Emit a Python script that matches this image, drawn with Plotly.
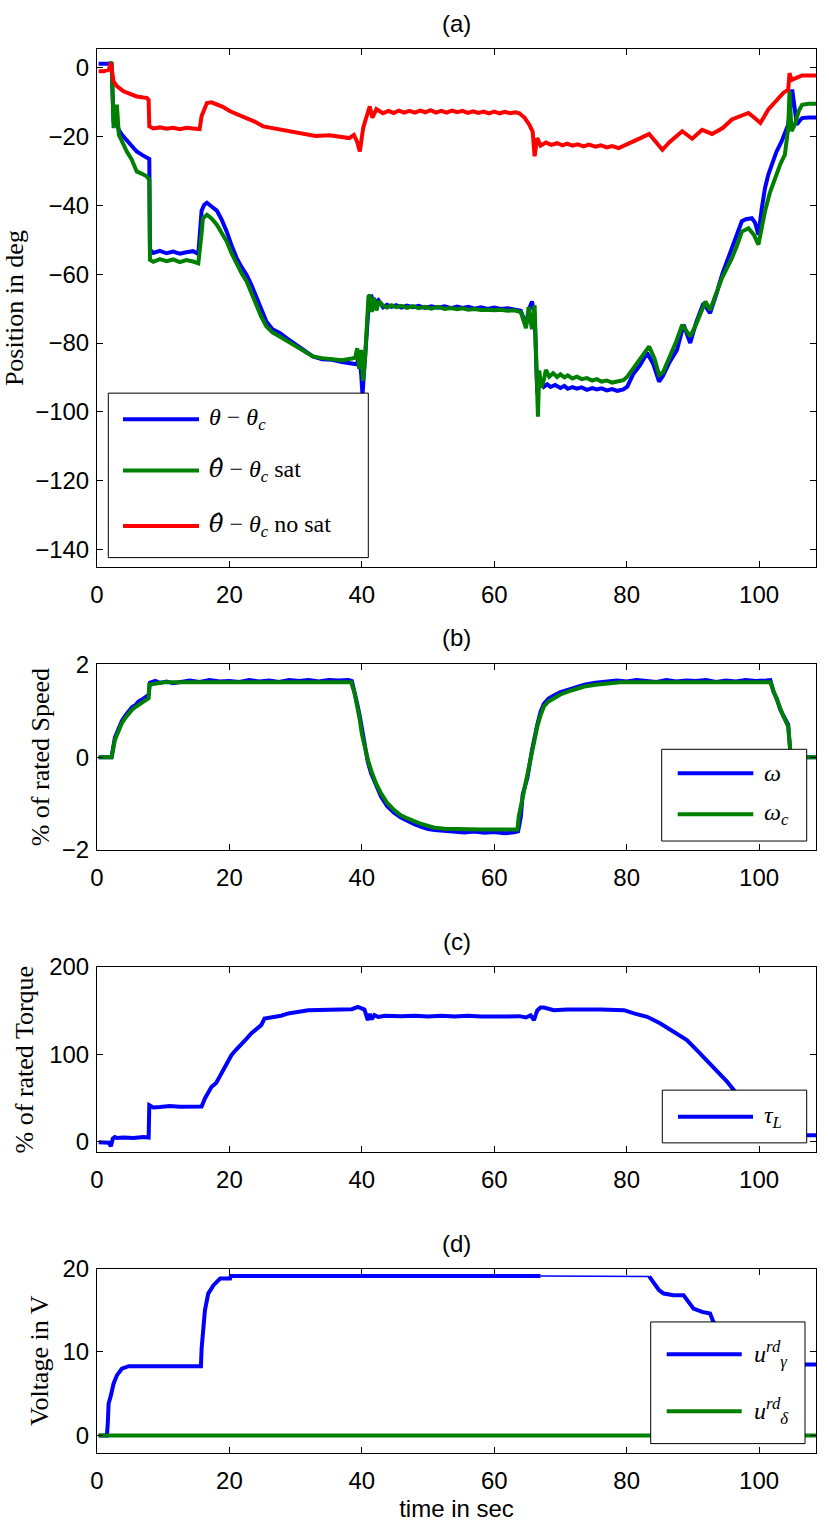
import plotly.graph_objects as go

W, H = 829, 1527

# ---------------- (a) position ----------------
ta_blue = [0.25, 1.0, 2.0, 2.2, 2.5, 3.0, 3.3, 3.8, 4.5, 5.2,
           6.0, 6.8, 7.5, 7.9, 8.0, 8.5, 9.5, 10.5, 11.5, 12.5,
           13.5, 14.5, 15.3, 15.8, 16.2, 16.6, 17.3, 18.1, 18.8, 19.6,
           20.3, 21.1, 21.8, 22.6, 23.3, 24.1, 24.8, 25.6, 26.5, 27.6,
           28.8, 30.1, 31.3, 32.6, 34.0, 35.5, 37.0, 38.5, 39.2, 39.6,
           39.9, 40.1, 40.4, 40.7, 41.0, 41.4, 41.8, 42.5,
           43.2, 43.8, 44.5, 45.2, 46.0, 46.8, 47.7, 48.6, 49.5, 50.5,
           51.5, 52.5, 53.5, 54.4, 55.2, 56.1, 57.0, 58.0, 59.0, 60.0,
           61.0, 62.0, 63.0,
           64.0, 64.8, 65.3, 65.7, 66.1, 66.5, 66.8,
           67.5, 68.0, 68.5, 69.2, 70.0, 70.6, 71.1, 71.8, 72.5, 73.2,
           74.0, 74.8, 75.5, 76.2, 77.0, 77.8, 78.6, 79.5, 80.1,
           81.0, 82.0, 83.1, 84.0, 84.9, 85.5, 86.5, 87.6, 88.6, 89.6,
           90.5, 91.6, 92.6, 93.6, 94.4, 95.2, 95.9, 96.7, 97.4, 98.0,
           98.9, 99.4, 99.9, 100.4, 100.9, 101.4, 101.9, 102.6, 103.4, 104.0,
           104.4, 104.8, 105.0, 105.4, 105.7, 106.2, 106.5, 107.5, 108.6]
pa_blue = [1.2, 1.2, 1.2, 1.5, -15.5, -16.5, -18.0, -19.5, -20.9, -22.3,
           -24.3, -25.3, -26.0, -26.5, -52.9, -53.8, -53.2, -53.9, -53.4, -54.0,
           -53.6, -53.3, -54.1, -41.5, -39.8, -39.2, -40.3, -41.5, -44.0, -47.6,
           -51.5, -55.3, -57.8, -60.2, -63.0, -66.9, -70.5, -73.8, -76.0, -77.1,
           -78.8, -80.5, -82.3, -83.9, -84.7, -84.9, -85.5, -85.9, -86.2, -84.0,
           -89.0, -95.0, -86.0, -76.6, -70.0, -66.0, -68.5, -67.5,
           -69.6, -68.9, -69.5, -69.0, -69.7, -69.1, -69.6, -69.2, -69.8, -69.3,
           -69.7, -69.3, -69.9, -69.4, -69.8, -69.5, -70.0, -69.6, -70.1, -69.7,
           -70.1, -69.9, -70.4,
           -70.6, -74.7, -70.0, -67.9, -72.0, -94.6, -90.0,
           -92.7, -92.0, -92.8, -92.2, -93.1, -92.5, -93.3, -92.8, -93.3, -92.9,
           -93.6, -93.1, -93.5, -93.2, -93.8, -93.4, -93.9, -93.5, -92.7,
           -89.0, -86.5, -82.9, -86.0, -91.2, -89.5, -85.5, -82.0, -74.7, -80.0,
           -74.0, -68.4, -71.3, -65.5, -60.2, -56.0, -52.4, -48.5, -44.6, -44.0,
           -43.7, -45.0, -48.5, -41.0, -34.9, -31.0, -28.1, -24.5, -21.4, -18.5,
           -16.5, -10.0, -6.3, -12.0, -16.5, -15.2, -14.6, -14.4, -14.4]

ta_green = [2.0, 2.2, 2.5, 2.8, 3.0, 3.3, 3.8, 4.5, 5.2, 6.0,
            6.8, 7.5, 7.9, 8.0, 8.5, 9.5, 10.5, 11.5, 12.5, 13.5,
            14.5, 15.3, 15.8, 16.0, 16.6, 17.3, 18.1, 18.8, 19.6, 20.3,
            21.1, 21.8, 22.6, 23.3, 24.1, 24.8, 25.6, 26.5, 27.6, 28.8,
            30.1, 31.3, 32.6, 34.0, 35.5, 37.0, 38.5, 39.0, 39.3, 39.6,
            39.9, 40.2, 40.5, 40.8, 41.0, 41.2, 41.5, 41.8, 42.2, 42.6,
            43.2, 43.8, 44.5, 45.2, 46.0, 46.8, 47.7, 48.6, 49.5, 50.5,
            51.5, 52.5, 53.5, 54.4, 55.2, 56.1, 57.0, 58.0, 59.0, 60.0,
            61.0, 62.0, 63.0,
            64.0, 64.5, 64.8, 65.2, 65.7, 66.1, 66.4, 66.6, 66.8, 67.1, 67.5,
            67.8, 68.3, 68.9, 69.5, 70.0, 70.6, 71.1, 71.8, 72.5, 73.2,
            74.0, 74.8, 75.5, 76.2, 77.0, 77.8, 78.6, 79.5,
            80.1, 81.0, 82.0, 83.4, 84.2, 84.9, 85.5, 86.5, 87.5, 88.4,
            89.6, 90.5, 91.9, 92.6, 93.4, 94.4, 95.2, 95.9, 96.7, 97.4,
            98.4, 99.2, 99.9, 100.4, 100.9, 101.6, 102.4, 103.2, 103.9, 104.4,
            104.6, 104.9, 105.4, 106.0, 106.5, 107.5, 108.6]
pa_green = [1.2, 1.8, -17.5, -12.0, -10.7, -19.4, -21.5, -24.3, -26.5, -30.1,
            -30.8, -31.5, -32.5, -55.8, -56.4, -55.6, -56.2, -55.7, -56.5, -55.9,
            -56.3, -56.8, -48.0, -43.7, -42.7, -43.8, -45.6, -47.8, -50.5, -53.8,
            -57.2, -59.6, -62.1, -65.5, -68.9, -72.3, -75.2, -76.9, -78.1, -79.5,
            -81.0, -82.5, -83.9, -84.4, -84.6, -85.0, -84.5, -84.3, -81.5, -87.5,
            -82.0, -91.0, -84.0, -74.0, -66.5, -66.0, -71.0, -66.8, -70.5, -67.8,
            -69.1, -69.7, -69.0, -69.6, -69.2, -69.8, -69.3, -69.9, -69.5, -70.0,
            -69.5, -70.1, -69.8, -70.2, -69.9, -70.3, -70.1, -70.4, -70.3, -70.5,
            -70.3, -70.6, -70.5,
            -71.0, -73.5, -75.7, -69.5, -76.0, -69.0, -85.0, -101.4, -88.0, -93.0, -90.7,
            -87.8, -89.8, -88.8, -89.9, -89.1, -90.0, -89.4, -90.3, -89.8, -90.5,
            -90.2, -90.9, -90.5, -91.2, -90.9, -91.5, -91.2, -90.8,
            -89.8, -87.5, -85.0, -81.0, -84.5, -89.3, -88.5, -84.0, -79.5, -74.7,
            -78.1, -74.5, -67.9, -70.4, -66.5, -61.1, -58.0, -55.3, -51.5, -47.6,
            -46.6, -48.5, -51.4, -46.5, -41.7, -36.5, -32.0, -28.0, -25.2, -17.5,
            -6.8, -18.4, -16.5, -12.5, -10.7, -10.4, -10.4]

ta_red = [0.25, 1.0, 1.8, 2.1, 2.5, 3.0, 4.0, 5.0, 6.0, 7.0,
          7.5, 7.8, 7.9, 8.5, 9.5, 10.5, 11.5, 12.5, 13.5, 14.5,
          15.5, 15.8, 16.2, 16.6, 17.3, 18.1, 19.0, 20.1, 21.3, 22.6,
          23.8, 25.1, 26.5, 28.1, 29.5, 31.1, 33.0, 35.1, 36.5, 38.1,
          38.8, 39.3, 39.7, 40.0, 40.2, 40.5, 40.9, 41.2, 41.6, 42.2,
          43.2, 44.0, 44.8, 45.6, 46.4, 47.2, 48.0, 48.8, 49.6, 50.4,
          51.2, 52.0, 52.8, 53.6, 54.4, 55.2, 56.0, 56.8, 57.6, 58.4,
          59.2, 60.0, 60.8, 61.6, 62.4, 63.2, 63.8,
          64.6, 65.3, 65.8, 66.1, 66.5,
          67.0, 67.8, 68.6, 69.5, 70.3, 71.0, 71.8, 72.6, 73.5, 74.3,
          75.3, 76.1, 77.0, 77.8, 78.8,
          79.8, 80.8, 82.0, 83.4, 84.4, 85.4, 86.5, 88.4, 89.9, 91.4,
          92.9, 94.5, 95.9, 97.2, 98.4, 99.3, 100.2, 101.4, 102.1, 102.9,
          103.7, 104.4, 104.6, 104.9, 105.5, 106.5, 107.5, 108.6]
pa_red = [-1.0, -1.0, -0.5, 1.5, -3.9, -5.3, -6.8, -7.5, -8.3, -8.6,
          -8.7, -9.3, -17.0, -17.6, -17.3, -17.7, -17.4, -17.8, -17.4, -17.6,
          -17.8, -14.0, -12.0, -10.2, -10.0, -10.5, -11.3, -12.6, -13.5, -14.6,
          -15.6, -17.0, -17.5, -18.0, -18.5, -19.2, -19.8, -19.6, -20.0, -20.4,
          -19.5, -21.5, -24.3, -19.0, -17.5, -15.5, -12.6, -11.2, -14.5, -12.0,
          -13.2, -12.5, -13.1, -12.4, -13.0, -12.5, -13.0, -12.4, -12.9, -12.3,
          -13.0, -12.5, -13.0, -12.4, -12.9, -12.5, -13.1, -12.6, -13.1, -12.7,
          -13.2, -12.7, -13.2, -12.8, -13.2, -12.9, -13.2,
          -14.5, -16.5, -18.5, -25.7, -20.4,
          -22.6, -21.7, -22.4, -21.9, -22.5, -22.0, -22.6, -22.2, -22.8, -22.3,
          -22.9, -22.5, -23.1, -22.7, -23.3,
          -22.5, -21.4, -20.5, -19.2, -21.5, -23.8, -21.5, -18.4, -20.6, -18.0,
          -19.2, -17.5, -15.0, -14.0, -13.1, -14.5, -16.0, -12.1, -10.5, -8.7,
          -7.2, -6.3, -1.5, -3.5, -2.9, -2.2, -2.2, -2.2]

# ---------------- (b) speed ----------------
tb_blue = [0.25, 2.2, 2.7, 3.2, 3.75, 4.3, 4.8, 5.3, 5.8, 6.3,
           6.8, 7.3, 7.8, 8.0, 8.8, 9.5, 10.5, 11.5, 12.5, 14.0,
           15.5, 17.0, 18.5, 20.0, 21.5, 23.0, 24.5, 26.0, 27.5, 29.0,
           30.5, 32.0, 33.5, 35.0, 36.5, 38.0, 38.5, 38.9, 39.3, 39.7,
           40.0, 40.4, 40.9, 41.4, 42.1, 42.9, 43.8, 44.9, 45.9, 46.9,
           48.0, 49.0, 50.0, 51.0, 52.5, 54.0, 55.5, 57.0, 58.5, 60.0,
           61.5, 63.0, 63.6, 64.0, 64.3, 65.0, 65.7, 66.5, 67.0, 67.5,
           68.2, 69.0, 70.0, 71.1, 72.3, 73.6, 75.3, 77.1, 78.5, 80.0,
           81.5, 83.0, 84.5, 86.0, 87.5, 89.0, 90.5, 92.0, 93.5, 95.0,
           96.5, 98.0, 99.5, 101.0, 101.7, 102.2, 102.7, 103.2, 103.7, 104.4,
           104.7, 105.2, 108.6]
wb_blue = [0.0, 0.0, 0.42, 0.6, 0.78, 0.9, 1.0, 1.08, 1.12, 1.2,
           1.24, 1.3, 1.34, 1.6, 1.64, 1.6, 1.63, 1.59, 1.62, 1.65,
           1.62, 1.66, 1.63, 1.64, 1.62, 1.66, 1.63, 1.65, 1.62, 1.66,
           1.64, 1.66, 1.63, 1.66, 1.65, 1.66, 1.64, 1.42, 1.15, 0.88,
           0.62, 0.2, -0.1, -0.35, -0.6, -0.85, -1.05, -1.2, -1.3, -1.38,
           -1.45, -1.5, -1.55, -1.57, -1.58, -1.6, -1.62, -1.6, -1.63, -1.61,
           -1.64, -1.62, -1.6, -1.3, -0.8, -0.45, 0.15, 0.7, 0.98, 1.15,
           1.26, 1.33, 1.4, 1.45, 1.5, 1.56, 1.6, 1.62, 1.65, 1.63,
           1.66, 1.64, 1.62, 1.66, 1.63, 1.65, 1.64, 1.66, 1.62, 1.65,
           1.63, 1.66, 1.64, 1.65, 1.66, 1.4, 1.25, 1.02, 0.9, 0.7,
           0.15, 0.0, 0.0]

tb_green = [0.25, 2.2, 2.7, 3.2, 3.75, 4.3, 4.8, 5.3, 5.8, 6.3,
            6.8, 7.3, 7.8, 7.9, 8.8, 10.0, 15.0, 20.0, 25.0, 30.0,
            35.0, 38.4, 38.9, 39.3, 39.7, 40.0, 40.4, 40.9, 41.4, 42.1,
            42.9, 43.8, 44.9, 45.9, 46.9, 48.0, 49.0, 50.0, 51.0, 52.5,
            54.0, 56.0, 58.0, 60.0, 62.0, 63.5, 63.7, 64.3, 65.0, 65.7,
            66.5, 67.0, 67.5, 68.2, 69.0, 70.0, 71.1, 72.3, 73.6, 75.3,
            77.1, 79.0, 85.0, 90.0, 95.0, 100.0, 101.7, 102.2, 102.7, 103.2,
            103.7, 104.4, 104.7, 105.2, 108.6]
wb_green = [0.0, 0.0, 0.37, 0.55, 0.73, 0.85, 0.95, 1.02, 1.08, 1.13,
            1.18, 1.23, 1.27, 1.56, 1.59, 1.61, 1.61, 1.61, 1.61, 1.61,
            1.61, 1.61, 1.38, 1.1, 0.8, 0.5, 0.23, -0.05, -0.28, -0.55,
            -0.78, -0.98, -1.14, -1.25, -1.32, -1.39, -1.44, -1.48, -1.52, -1.54,
            -1.55, -1.56, -1.56, -1.56, -1.56, -1.56, -1.28, -0.85, -0.42, 0.1,
            0.66, 0.9, 1.09, 1.2, 1.27, 1.35, 1.41, 1.47, 1.52, 1.56,
            1.59, 1.61, 1.61, 1.61, 1.61, 1.61, 1.61, 1.42, 1.23, 1.05,
            0.87, 0.66, 0.16, 0.0, 0.0]

# ---------------- (c) torque ----------------
tc = [0.25, 1.3, 1.8, 2.1, 2.4, 2.7, 3.0, 4.0, 5.5, 7.0,
      7.8, 7.9, 8.5, 9.5, 11.0, 12.5, 14.0, 15.5, 15.8, 16.3,
      16.8, 17.3, 18.0, 18.8, 19.5, 20.3, 21.0, 21.8, 22.5, 23.3,
      24.0, 24.8, 25.3, 26.0, 26.8, 27.8, 28.9, 30.0, 31.9, 33.5,
      35.9, 37.5, 38.5, 39.4, 40.0, 40.4, 40.9, 41.2, 41.5, 41.9,
      42.5, 43.5, 45.9, 48.0, 50.0, 52.0, 54.0, 56.0, 58.0, 60.0,
      62.0, 63.8, 64.8, 65.5, 66.0, 66.5, 67.0, 67.5, 69.0, 71.0,
      73.0, 74.5, 76.1, 78.0, 79.6, 81.1, 83.1, 85.1, 87.1, 89.1,
      90.6, 92.1, 93.7, 95.2, 96.2, 98.0, 100.0, 102.0, 104.0, 106.0,
      108.6]
torque = [-1.0, -1.0, -1.5, -5.4, 3.4, 5.0, 4.0, 4.5, 4.0, 5.0,
          4.5, 41.6, 39.0, 39.5, 40.5, 39.8, 40.2, 39.5, 40.0, 49.2,
          55.0, 62.5, 67.0, 77.9, 86.0, 98.8, 105.0, 112.2, 117.0, 123.7,
          128.0, 133.2, 140.8, 141.5, 141.9, 144.0, 146.6, 148.0, 150.3, 150.5,
          151.0, 150.5, 151.5, 154.1, 152.0, 151.0, 138.9, 146.0, 140.0, 144.7,
          142.5, 144.0, 143.5, 144.0, 143.0, 144.0, 143.2, 143.8, 143.0, 143.6,
          143.2, 143.5, 142.0, 144.5, 138.9, 150.0, 153.4, 153.4, 150.3, 151.2,
          150.5, 151.0, 151.0, 150.5, 150.3, 146.6, 142.7, 135.1, 125.5, 116.0,
          104.5, 93.1, 79.7, 68.2, 58.7, 38.0, 18.0, 8.0, 7.0, 7.0,
          7.0]

# ---------------- (d) voltage ----------------
td_gamma1 = [0.25, 1.5, 1.64, 1.75, 2.1, 2.5, 3.0, 3.75, 4.8, 8.0,
             12.0, 15.7, 15.8, 16.0, 16.3, 16.8, 17.6, 18.6, 20.1, 20.2,
             30.0, 40.0, 50.0, 60.0, 67.0]
u_gamma1 = [0.0, 0.0, 1.6, 3.8, 4.8, 6.2, 7.2, 8.0, 8.3, 8.3,
            8.3, 8.3, 10.4, 13.0, 15.0, 17.0, 18.0, 18.8, 18.8, 19.1,
            19.1, 19.1, 19.1, 19.1, 19.1]
td_gamma2 = [83.4, 84.1, 84.9, 85.6, 87.1, 88.6, 89.4, 90.1, 91.4, 92.6,
             93.1, 95.0, 98.0, 101.0, 104.0, 108.6]
u_gamma2 = [19.05, 18.2, 17.4, 17.0, 16.8, 16.8, 16.0, 15.2, 14.8, 14.6,
            13.6, 12.0, 10.0, 8.6, 8.5, 8.5]
td_delta = [0.25, 108.6]
u_delta = [0.0, 0.0]

for a, b in [(ta_blue, pa_blue), (ta_green, pa_green), (ta_red, pa_red),
             (tb_blue, wb_blue), (tb_green, wb_green), (tc, torque),
             (td_gamma1, u_gamma1), (td_gamma2, u_gamma2)]:
    assert len(a) == len(b), (len(a), len(b))

BLUE, GREEN, RED = "#0000ff", "#008000", "#ff0000"
LW = 4
SANS = "Liberation Sans"
SERIF = "Liberation Serif"
TICK_FS = 24
LAB_FS = 26

# plot-area box in pixels (union of the four panels)
PL, PR, PT, PB = 97.0, 816.0, 49.3, 1452.7
PW, PH = PR - PL, PB - PT


def fx(px):
    return (px - PL) / PW


def fy(py):
    return (PB - py) / PH


fig = go.Figure()


def line(x, y, color, xa, ya, width=LW):
    fig.add_trace(go.Scatter(x=x, y=y, mode="lines", xaxis=xa, yaxis=ya,
                             line=dict(color=color, width=width),
                             showlegend=False, hoverinfo="skip"))


line(ta_blue, pa_blue, BLUE, "x", "y")
line(ta_green, pa_green, GREEN, "x", "y")
line(ta_red, pa_red, RED, "x", "y")
line(tb_blue, wb_blue, BLUE, "x2", "y2")
line(tb_green, wb_green, GREEN, "x2", "y2")
line(tc, torque, BLUE, "x3", "y3")
line(td_gamma1, u_gamma1, BLUE, "x4", "y4")
line([td_gamma1[-1], td_gamma2[0]], [u_gamma1[-1], u_gamma2[0]], BLUE, "x4", "y4", width=1.5)
line(td_gamma2, u_gamma2, BLUE, "x4", "y4")
line(td_delta, u_delta, GREEN, "x4", "y4")

panels = [(49.3, 567.3), (664.3, 850.0), (966.7, 1152.3), (1268.3, 1452.7)]
y_ranges = [[-145.2, 5.5], [-2, 2], [-12.6, 200], [-2.1, 20]]
y_ticks = [list(range(-140, 1, 20)), [-2, 0, 2], [0, 100, 200], [0, 10, 20]]
y_titles = ["Position in deg", "% of rated Speed", "% of rated Torque", "Voltage in V"]
y_standoff = [12, 4, 8, 6]
x_range = [0, 108.6]
x_ticks = [0, 20, 40, 60, 80, 100]

common = dict(showline=True, linecolor="black", linewidth=1, mirror="ticks",
              ticks="inside", ticklen=6, tickcolor="black", tickwidth=1,
              showgrid=False, zeroline=False, automargin=False,
              tickfont=dict(family=SANS, size=TICK_FS, color="black"))

layout = dict(width=W, height=H,
              margin=dict(l=PL, r=W - PR, t=PT, b=H - PB, pad=0, autoexpand=False),
              plot_bgcolor="white", paper_bgcolor="white", showlegend=False)

for i, (top, bot) in enumerate(panels):
    sfx = "" if i == 0 else str(i + 1)
    xa = dict(common, domain=[0, 1], range=x_range, tickvals=x_ticks,
              anchor="y" + sfx, ticklabelstandoff=6)
    if i == 3:
        xa["title"] = dict(text="time in sec", standoff=7,
                           font=dict(family=SANS, size=TICK_FS, color="black"))
    ya = dict(common, domain=[fy(bot), fy(top)], range=y_ranges[i],
              tickvals=y_ticks[i], anchor="x" + sfx, ticklabelstandoff=2,
              title=dict(text=y_titles[i], standoff=y_standoff[i],
                         font=dict(family=SERIF, size=LAB_FS, color="black")))
    layout["xaxis" + sfx] = xa
    layout["yaxis" + sfx] = ya

fig.update_layout(**layout)

# panel captions
for cap, py in [("(a)", 24), ("(b)", 638), ("(c)", 941.7), ("(d)", 1243)]:
    fig.add_annotation(x=fx(456.5), y=fy(py), xref="paper", yref="paper",
                       text=cap, showarrow=False, xanchor="center", yanchor="middle",
                       font=dict(family=SANS, size=TICK_FS, color="black"))

HAT = '<span style="font-family:DejaVu Serif"><i>θ̂</i></span>'
# legends (boxes, sample lines, labels)
legends = [
    ((108.3, 393.3, 368.3, 557.7), 123, 199, 206.7,
     [(419.3, BLUE, "<i>θ</i> − <i>θ</i><sub><i>c</i></sub>"),
      (470.7, GREEN, HAT + " − <i>θ</i><sub><i>c</i></sub> sat"),
      (526.0, RED, HAT + " − <i>θ</i><sub><i>c</i></sub> no sat")]),
    ((661.7, 749.3, 806.7, 841.0), 677.7, 753.3, 762,
     [(773.3, BLUE, "<i>ω</i>"),
      (814.3, GREEN, "<i>ω</i><sub><i>c</i></sub>")]),
    ((662.3, 1090.0, 806.7, 1142.7), 678, 753, 762,
     [(1116.7, BLUE, "<i>τ</i><sub><i>L</i></sub>")]),
    ((650.7, 1321.7, 805.0, 1443.3), 666.7, 741.7, 751.7,
     [(1354.0, BLUE, "<i>u</i><sup><i>rd</i></sup><sub><i>γ</i></sub>"),
      (1411.0, GREEN, "<i>u</i><sup><i>rd</i></sup><sub><i>δ</i></sub>")]),
]
for (x0, y0, x1, y1), lx0, lx1, tx, entries in legends:
    fig.add_shape(type="rect", xref="paper", yref="paper",
                  x0=fx(x0), x1=fx(x1), y0=fy(y1), y1=fy(y0),
                  line=dict(color="black", width=1), fillcolor="white", layer="above")
    for py, col, txt in entries:
        fig.add_shape(type="line", xref="paper", yref="paper",
                      x0=fx(lx0), x1=fx(lx1), y0=fy(py), y1=fy(py),
                      line=dict(color=col, width=LW), layer="above")
        fig.add_annotation(x=fx(tx), y=fy(py), xref="paper", yref="paper",
                           text=txt, showarrow=False, xanchor="left", yanchor="middle",
                           font=dict(family=SERIF, size=24, color="black"))

fig.write_html("out.html", config={"displayModeBar": False},
               post_script="document.body.style.margin='0';document.body.style.overflow='hidden';")
